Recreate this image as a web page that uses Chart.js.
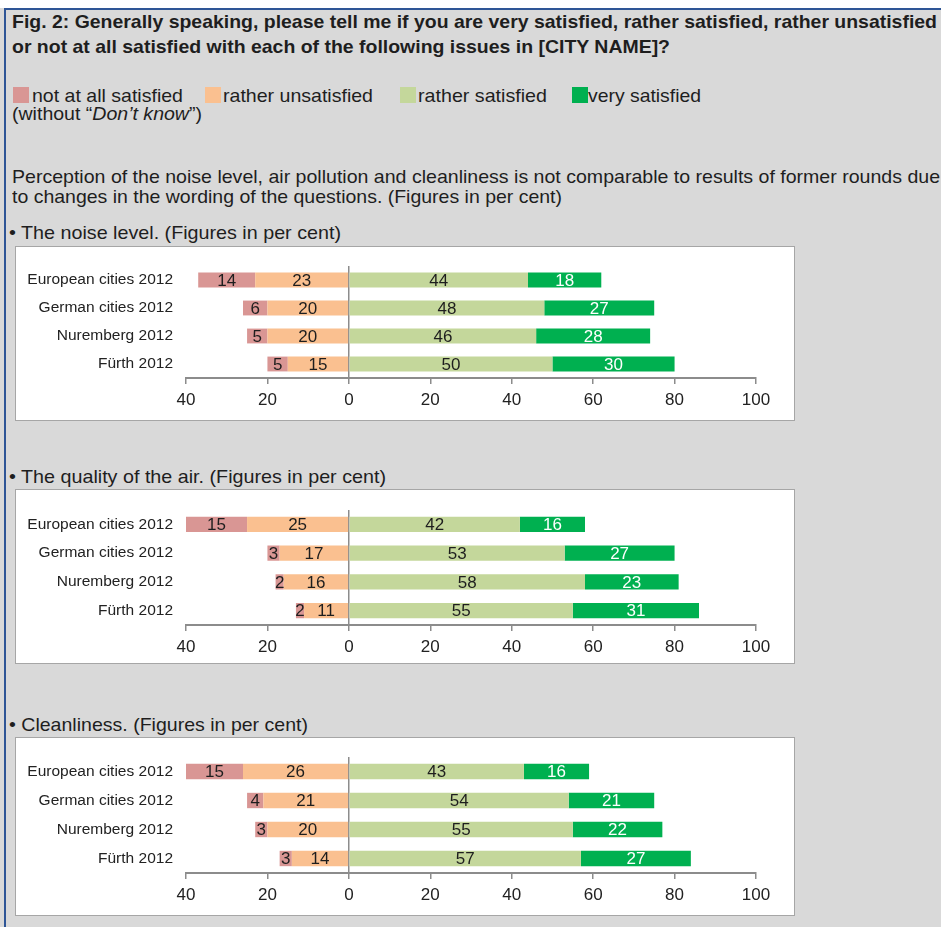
<!DOCTYPE html>
<html>
<head>
<meta charset="utf-8">
<script src="https://cdn.jsdelivr.net/npm/chart.js@4.4.1/dist/chart.umd.min.js"></script>
<style>
  body {
    margin: 0;
    width: 941px;
    height: 927px;
    background: #d9d9d9;
    font-family: "Liberation Sans", Arial, sans-serif;
    color: #1e1e1e;
    position: relative;
    overflow: hidden;
  }
  .topstrip { position: absolute; left: 0; top: 0; width: 941px; height: 8px; background: #fff; }
  .topline { position: absolute; left: 4px; top: 8px; width: 937px; height: 2px; background: #2e5596; }
  .leftline { position: absolute; left: 4px; top: 8px; width: 2px; height: 919px; background: #2e5596; }
  .t { position: absolute; white-space: nowrap; line-height: 1; transform-origin: 0 0; font-size: 19px; }
  .b { font-weight: bold; font-size: 18.5px; }
  .sq { position: absolute; width: 16px; height: 16px; top: 87px; }
  .panel { position: absolute; left: 15px; width: 780px; background: #fff; border: 1px solid #a6a6a6; box-sizing: border-box; }
  .panel canvas { position: absolute; left: 0; top: 0; }
</style>
</head>
<body>
<div class="topstrip"></div>
<div class="topline"></div>
<div class="leftline"></div>

<div class="t b" style="left:12px; top:12.6px" data-w="925">Fig. 2: Generally speaking, please tell me if you are very satisfied, rather satisfied, rather unsatisfied</div>
<div class="t b" style="left:12px; top:37.6px" data-w="658">or not at all satisfied with each of the following issues in [CITY NAME]?</div>

<div class="sq" style="left:13px; background:#d99694"></div>
<div class="t" style="left:32px; top:85.6px" data-w="151">not at all satisfied</div>
<div class="sq" style="left:205px; background:#fac090"></div>
<div class="t" style="left:223px; top:85.6px" data-w="150">rather unsatisfied</div>
<div class="sq" style="left:400px; background:#c4d79b"></div>
<div class="t" style="left:418px; top:85.6px" data-w="129">rather satisfied</div>
<div class="sq" style="left:572px; background:#00b050"></div>
<div class="t" style="left:588px; top:85.6px" data-w="113">very satisfied</div>
<div class="t" style="left:12px; top:104.4px" data-w="190">(without “<i>Don’t know</i>”)</div>

<div class="t" style="left:12px; top:166.6px" data-w="928">Perception of the noise level, air pollution and cleanliness is not comparable to results of former rounds due</div>
<div class="t" style="left:12px; top:187.2px" data-w="550">to changes in the wording of the questions. (Figures in per cent)</div>

<div class="t" style="left:9px; top:222.9px" data-w="332">• The noise level. (Figures in per cent)</div>
<div class="panel" style="top:246px; height:175px"><canvas id="noiseChart" width="778" height="173"></canvas></div>

<div class="t" style="left:9px; top:467.2px" data-w="377">• The quality of the air. (Figures in per cent)</div>
<div class="panel" style="top:489px; height:175px"><canvas id="airChart" width="778" height="173"></canvas></div>

<div class="t" style="left:9px; top:714.6px" data-w="299">• Cleanliness. (Figures in per cent)</div>
<div class="panel" style="top:737px; height:179px"><canvas id="cleanChart" width="778" height="177"></canvas></div>

<script>
// Categories shown on every chart
const categories = ['European cities 2012', 'German cities 2012', 'Nuremberg 2012', 'Fürth 2012'];
const seriesNames = ['not at all satisfied', 'rather unsatisfied', 'rather satisfied', 'very satisfied'];

// The noise level
const noiseNotAtAll = [14, 6, 5, 5];
const noiseUnsatisfied = [23, 20, 20, 15];
const noiseSatisfied = [44, 48, 46, 50];
const noiseVery = [18, 27, 28, 30];

// The quality of the air
const airNotAtAll = [15, 3, 2, 2];
const airUnsatisfied = [25, 17, 16, 11];
const airSatisfied = [42, 53, 58, 55];
const airVery = [16, 27, 23, 31];

// Cleanliness
const cleanNotAtAll = [15, 4, 3, 3];
const cleanUnsatisfied = [26, 21, 20, 14];
const cleanSatisfied = [43, 54, 55, 57];
const cleanVery = [16, 21, 22, 27];

// x axis: left side shows the unsatisfied share as positive numbers
const axisMin = -40;
const axisMax = 100;
const axisStep = 20;

// stretch or squeeze each text line to the width it has in the figure
document.querySelectorAll('[data-w]').forEach(el => {
    const w = el.getBoundingClientRect().width;
    el.style.transform = 'scaleX(' + (el.dataset.w / w) + ')';
});

Chart.defaults.font.family = '"Liberation Sans", Arial, sans-serif';

// writes the value in the middle of each bar segment
const barLabels = {
    id: 'barLabels',
    afterDatasetsDraw(chart) {
        const ctx = chart.ctx;
        ctx.save();
        ctx.font = '17px "Liberation Sans", Arial, sans-serif';
        ctx.textAlign = 'center';
        ctx.textBaseline = 'middle';
        chart.data.datasets.forEach((ds, i) => {
            chart.getDatasetMeta(i).data.forEach((bar, j) => {
                const left = Math.max(Math.min(bar.x, bar.base), chart.chartArea.left);
                const right = Math.max(bar.x, bar.base);
                ctx.fillStyle = ds.labelColor;
                ctx.fillText(Math.abs(ds.data[j]), (left + right) / 2, bar.y + 1);
            });
        });
        ctx.restore();
    }
};

function makeChart(id, notAtAll, unsatisfied, satisfied, very, areaTop, axisY) {
    const canvas = document.getElementById(id);
    const h = canvas.height;
    return new Chart(canvas, {
        type: 'bar',
        data: {
            labels: categories,
            datasets: [
                // negative stacks grow away from zero in dataset order
                { label: seriesNames[1], data: unsatisfied.map(v => -v), backgroundColor: '#fac090', labelColor: '#1e1e1e' },
                { label: seriesNames[0], data: notAtAll.map(v => -v), backgroundColor: '#d99694', labelColor: '#1e1e1e' },
                { label: seriesNames[2], data: satisfied, backgroundColor: '#c4d79b', labelColor: '#1e1e1e' },
                { label: seriesNames[3], data: very, backgroundColor: '#00b050', labelColor: '#ffffff' }
            ]
        },
        options: {
            indexAxis: 'y',
            responsive: false,
            animation: false,
            barPercentage: 0.53,
            categoryPercentage: 1,
            layout: { padding: { top: areaTop, right: 38, left: 0, bottom: 0 } },
            plugins: {
                legend: { display: false },
                tooltip: { enabled: false }
            },
            scales: {
                x: {
                    stacked: true,
                    min: axisMin,
                    max: axisMax,
                    ticks: {
                        stepSize: axisStep,
                        callback: v => Math.abs(v),
                        color: '#222',
                        font: { size: 17 },
                        padding: 6,
                        maxRotation: 0
                    },
                    grid: {
                        color: c => (c.tick && c.tick.value === 0) ? '#8c8c8c' : 'rgba(0,0,0,0)',
                        lineWidth: 1.5,
                        tickColor: '#8c8c8c',
                        tickLength: 6,
                        tickWidth: 1.5
                    },
                    border: { color: '#8c8c8c', width: 2 },
                    afterFit: s => { s.height = h - axisY; }
                },
                y: {
                    stacked: true,
                    grid: { display: false },
                    border: { display: false },
                    ticks: { color: '#222', font: { size: 15.5 }, padding: 5 },
                    afterFit: s => { s.width = 170; }
                }
            }
        },
        plugins: [barLabels]
    });
}

makeChart('noiseChart', noiseNotAtAll, noiseUnsatisfied, noiseSatisfied, noiseVery, 19, 131);
makeChart('airChart', airNotAtAll, airUnsatisfied, airSatisfied, airVery, 20, 135);
makeChart('cleanChart', cleanNotAtAll, cleanUnsatisfied, cleanSatisfied, cleanVery, 19, 135);
</script>
</body>
</html>
